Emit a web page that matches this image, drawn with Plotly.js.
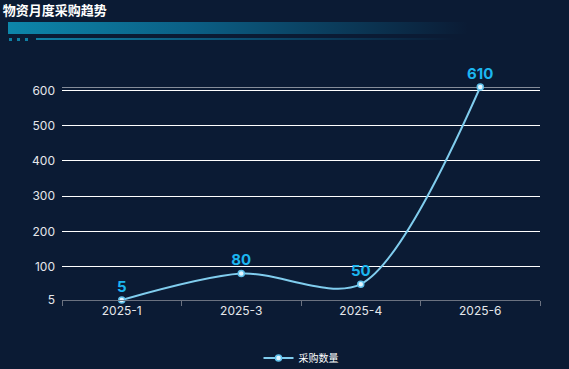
<!DOCTYPE html>
<html>
<head>
<meta charset="utf-8">
<script src="https://cdn.plot.ly/plotly-3.0.1.min.js"></script>
<style>
html,body{margin:0;padding:0;background:#0b1b34;}
#wrap{position:relative;width:569px;height:369px;overflow:hidden;background:#0b1b34;}
#chart{position:absolute;left:0;top:0;width:569px;height:369px;}
#bar{position:absolute;left:8px;top:22px;width:460px;height:12px;background:linear-gradient(90deg,#0d86aa 0%,#0b5f85 40%,rgba(11,27,52,0) 100%);}
.dot{position:absolute;top:38px;width:3px;height:3px;background:#0f7fa3;}
#thin{position:absolute;left:36px;top:38px;width:420px;height:2px;background:linear-gradient(90deg,#0f7fa3 0%,#0b4d70 50%,rgba(11,27,52,0) 100%);}
</style>
</head>
<body>
<div id="wrap">
<div id="bar"></div>
<div class="dot" style="left:9px"></div>
<div class="dot" style="left:17px"></div>
<div class="dot" style="left:25px"></div>
<div id="thin"></div>
<div id="chart"></div>
</div>
<script>
const categories = ['2025-1', '2025-3', '2025-4', '2025-6'];
const purchaseQty = [5, 80, 50, 610];
const seriesName = '采购数量';
const yTickVals = [5, 100, 200, 300, 400, 500, 600];
const yMax = 610;
const chartTitle = '物资月度采购趋势';

const trace = {
  x: categories,
  y: purchaseQty,
  name: seriesName,
  type: 'scatter',
  mode: 'lines+markers+text',
  line: {shape: 'spline', smoothing: 0.85, color: '#80cdee', width: 2},
  marker: {size: 6, color: '#e4f6ff', line: {color: '#5fc0ea', width: 1.5}},
  text: purchaseQty.map(String),
  textposition: 'top center',
  textfont: {family: 'Inter, Roboto, sans-serif', size: 15, color: '#1cb6f0', weight: 'bold'},
  cliponaxis: false
};

const layout = {
  width: 569, height: 369,
  paper_bgcolor: 'rgba(0,0,0,0)',
  plot_bgcolor: 'rgba(0,0,0,0)',
  margin: {l: 62, r: 29, t: 87, b: 69},
  title: {text: chartTitle, x: 0.005, xanchor: 'left', y: 0.985, yanchor: 'top',
    font: {family: '"Noto Sans CJK SC", sans-serif', size: 13, color: '#ffffff', weight: 'bold'}},
  showlegend: true,
  legend: {orientation: 'h', x: 0.5, xanchor: 'center', yref: 'container', y: 0.03, yanchor: 'middle',
    font: {family: '"Noto Sans CJK SC", sans-serif', size: 10, color: '#ffffff'}},
  xaxis: {
    type: 'category',
    range: [-0.5, categories.length - 0.5],
    tickson: 'boundaries',
    ticks: 'outside', ticklen: 5, tickcolor: '#6b7280',
    showline: true, linecolor: '#6b7280', linewidth: 1,
    showgrid: false,
    tickfont: {family: 'Inter, Roboto, sans-serif', size: 12, color: '#e5e7eb'},
    fixedrange: true
  },
  yaxis: {
    range: [5, yMax],
    tickvals: yTickVals,
    showgrid: true, gridcolor: '#ffffff', gridwidth: 1,
    zeroline: false, showline: false, ticks: '',
    tickfont: {family: 'Inter, Roboto, sans-serif', size: 12, color: '#e5e7eb'},
    ticklabelstandoff: 6,
    fixedrange: true
  },
  shapes: [{type: 'line', xref: 'paper', x0: 0, x1: 1, yref: 'y', y0: yMax, y1: yMax,
    line: {color: '#ffffff', width: 1}, layer: 'below'}]
};

Plotly.newPlot('chart', [trace], layout, {displayModeBar: false, staticPlot: true});
</script>
</body>
</html>
